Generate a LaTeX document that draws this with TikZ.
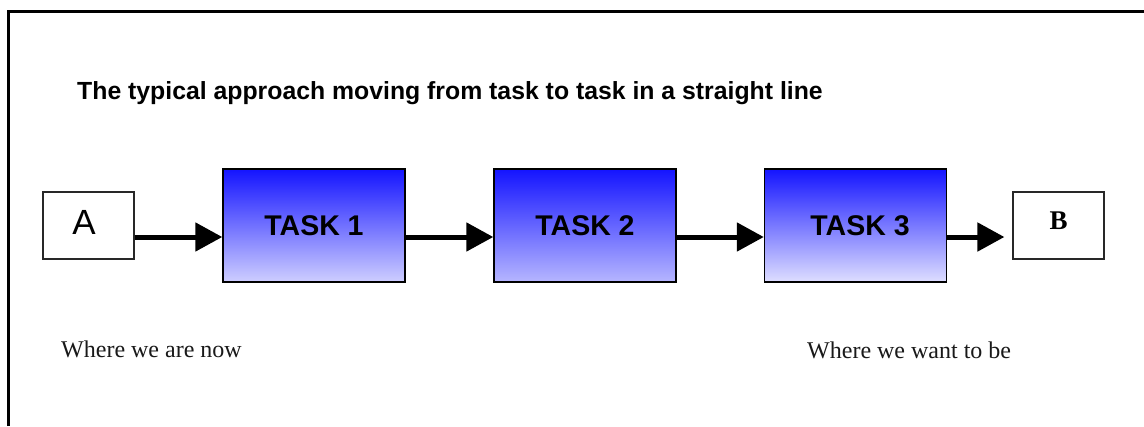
\documentclass[tikz,border=0pt]{standalone}
\usepackage{fontspec}
\setmainfont{Liberation Serif}
\setsansfont{Liberation Sans}
\usetikzlibrary{arrows.meta}
\definecolor{topblue}{RGB}{20,20,255}
\definecolor{bot1}{RGB}{206,206,255}
\definecolor{bot2}{RGB}{182,182,255}
\definecolor{bot3}{RGB}{222,222,255}
\definecolor{boxline}{RGB}{40,40,40}
\tikzset{
  endbox/.style={draw=boxline, line width=1.2pt, fill=white, minimum width=91pt, minimum height=67pt, inner sep=0pt},
  taskbox/.style={draw=black, line width=1.4pt, minimum width=182pt, minimum height=113pt, inner sep=0pt,
     font=\sffamily\bfseries\fontsize{28.5}{32}\selectfont, top color=topblue},
  flow/.style={line width=5pt, -{Triangle[length=27pt,width=28pt]}},
  note/.style={anchor=base west, inner sep=0pt, font=\fontsize{24}{28}\selectfont, text=black!90}
}
\begin{document}
\begin{tikzpicture}[x=1pt,y=-1pt]
\useasboundingbox (0,0) rectangle (1144,426);
\draw[line width=2.5pt] (8.5,426) -- (8.5,11.5) -- (1144,11.5);
\node[anchor=base west, inner sep=0pt, font=\sffamily\bfseries\fontsize{24.8}{28}\selectfont] (title) at (77,99) {The typical approach moving from task to task in a straight line};
\node[endbox] (a) at (88.5,225.5) {};
\node[inner sep=0pt, font=\sffamily\fontsize{35}{38}\selectfont] (alabel) at (84,222) {A};
\node[taskbox, bottom color=bot1] (t1) at (314,225.5) {TASK 1};
\node[taskbox, bottom color=bot2] (t2) at (585,225.5) {TASK 2};
\node[taskbox, bottom color=bot3] (t3) at (855.5,225.5) {};
\node[inner sep=0pt, font=\sffamily\bfseries\fontsize{28.5}{32}\selectfont] (t3label) at (860,225.5) {TASK 3};
\node[endbox] (b) at (1058.5,225.5) {};
\node[inner sep=0pt, font=\bfseries\fontsize{27}{30}\selectfont] (blabel) at (1058.5,221) {B};
\draw[flow] ([yshift=-11.5pt]a.east) -- ([yshift=-11.5pt]t1.west);
\draw[flow] ([yshift=-11.5pt]t1.east) -- ([yshift=-11.5pt]t2.west);
\draw[flow] ([yshift=-11.5pt]t2.east) -- ([yshift=-11.5pt]t3.west);
\draw[flow] ([yshift=-11.5pt]t3.east) -- ([yshift=-11.5pt,xshift=-8pt]b.west);
\node[note] (now) at (61,357) {Where we are now};
\node[note] (want) at (807,358) {Where we want to be};
\end{tikzpicture}
\end{document}
